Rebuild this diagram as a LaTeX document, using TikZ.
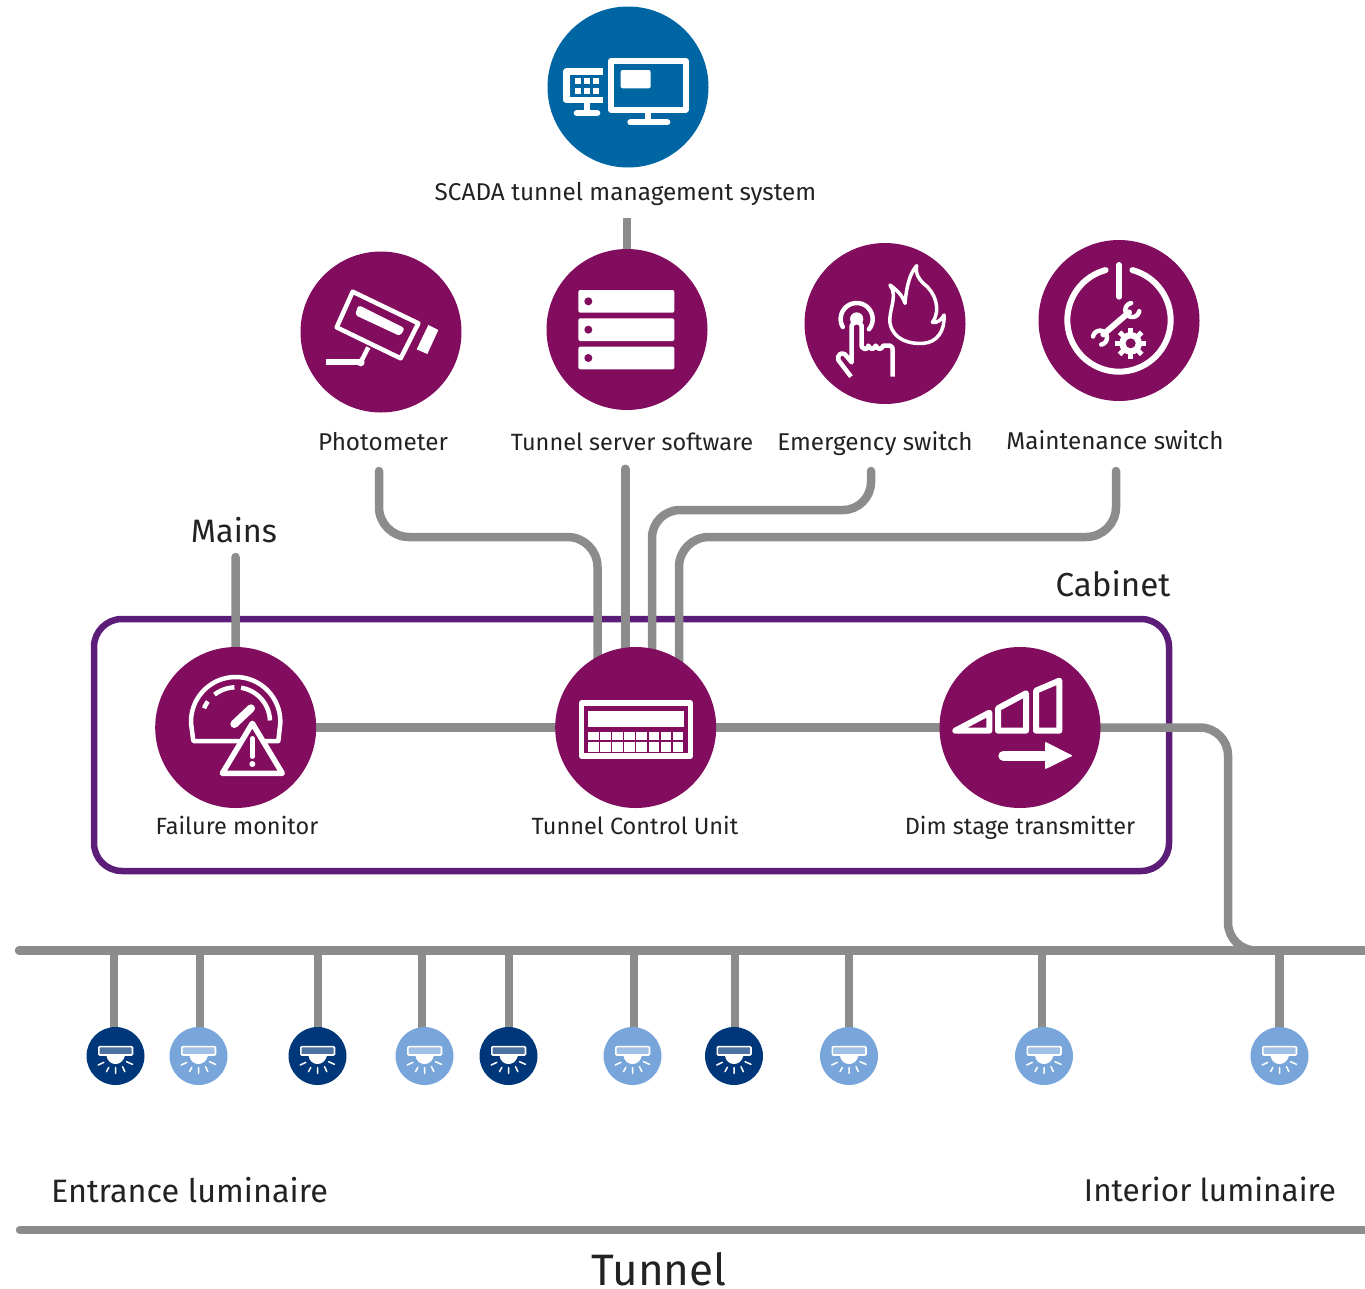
\documentclass[tikz,border=0pt]{standalone}
\usepackage{fontspec}
\setmainfont{Fira Sans}
\usetikzlibrary{backgrounds}
\definecolor{plum}{HTML}{820C5E}
\definecolor{scadablue}{HTML}{0065A3}
\definecolor{navy}{HTML}{00367A}
\definecolor{skyl}{HTML}{78A6DA}
\definecolor{wire}{HTML}{8C8C8C}
\definecolor{cabinetc}{HTML}{5C1D78}
\definecolor{ink}{HTML}{222222}
\tikzset{
  big/.style={circle,minimum size=161pt,inner sep=0pt,fill=plum},
  lamp/.style={circle,minimum size=58pt,inner sep=0pt},
  lbl/.style={text=ink,inner sep=0pt,anchor=base,font=\fontsize{24.3}{28}\selectfont},
  lblsm/.style={text=ink,inner sep=0pt,anchor=base,font=\fontsize{23.5}{28}\selectfont},
  lblbig/.style={text=ink,inner sep=0pt,anchor=base,font=\fontsize{32.4}{38}\selectfont},
  wireline/.style={draw=wire,line width=8.5pt,line cap=round},
  ico/.style={draw=white,line width=6pt,line join=round,line cap=round},
  icothin/.style={draw=white,line width=4.5pt,line join=round,line cap=round},
}
\newcommand{\lumicon}[1]{%
  \begin{scope}[shift={(#1)},scale=1/3]
    \draw[draw=white,line width=1.6pt,fill=white,fill opacity=.3,rounded corners=1pt] (-50,-28) rectangle (51,-3);
    \fill[white] (-27,0) -- (28,0) .. controls (24,16) and (12,24) .. (0,24) .. controls (-12,24) and (-24,16) .. (-27,0) -- cycle;
    \draw[draw=white,line width=1.5pt,line cap=round] (-52,27) -- (-35,19) (-27,47) -- (-20,34) (0,52) -- (0,35) (28,47) -- (21,32) (51,25) -- (33,17);
  \end{scope}}
\begin{document}
\begin{tikzpicture}[x=1pt,y=-1pt]
\useasboundingbox (0,0) rectangle (1365,1288);
% main nodes
\node[big,fill=scadablue] (scada) at (628,87) {};
\node[lbl] (scadat) at (625.5,200) {SCADA tunnel management system};
\node[big] (photo) at (381,332) {};
\node[big] (srv) at (627,329.5) {};
\node[big] (emer) at (885,323.5) {};
\node[big] (maint) at (1119,320.5) {};
\node[lbl] (photot) at (383,450.5) {Photometer};
\node[lblsm] (srvt) at (632,450.5) {Tunnel server software};
\node[lbl] (emert) at (875,450.5) {Emergency switch};
\node[lbl] (maintt) at (1115,449.3) {Maintenance switch};
\node[lblbig] (mains) at (234,542) {Mains};
\node[lblbig,font=\fontsize{33.2}{38}\selectfont] (cabt) at (1113,596) {Cabinet};
\node[big] (fail) at (235.7,727.5) {};
\node[big] (tcu) at (635.7,727.5) {};
\node[big] (dim) at (1020,727.5) {};
\node[lblsm] (failt) at (237,834) {Failure monitor};
\node[lblsm] (tcut) at (635,834) {Tunnel Control Unit};
\node[lblsm] (dimt) at (1020,834) {Dim stage transmitter};
\node[lamp,fill=navy] (l1) at (115.5,1056) {};
\node[lamp,fill=skyl] (l2) at (198.5,1056) {};
\node[lamp,fill=navy] (l3) at (317.5,1056) {};
\node[lamp,fill=skyl] (l4) at (424.5,1056) {};
\node[lamp,fill=navy] (l5) at (508.5,1056) {};
\node[lamp,fill=skyl] (l6) at (632.5,1056) {};
\node[lamp,fill=navy] (l7) at (734,1056) {};
\node[lamp,fill=skyl] (l8) at (849,1056) {};
\node[lamp,fill=skyl] (l9) at (1044,1056) {};
\node[lamp,fill=skyl] (l10) at (1279.5,1056) {};
\node[lblbig] (entr) at (189.5,1202) {Entrance luminaire};
\node[lblbig,font=\fontsize{31.5}{38}\selectfont] (inter) at (1210,1201) {Interior luminaire};
\node[text=ink,inner sep=0pt,anchor=base,font=\fontsize{44}{50}\selectfont] (tun) at (659,1285) {Tunnel};
\coordinate (busL) at (19,950.5);
\coordinate (busR) at (1370,950.5);
\coordinate (floorL) at (20,1230);
\coordinate (floorR) at (1370,1230);
\coordinate (srvtop) at (627,218);
\coordinate (p0) at (379,471);
\coordinate (s0) at (625,469);
\coordinate (e0) at (871,471);
\coordinate (m0) at (1116,471);
\coordinate (mainsend) at (235.5,557);
\begin{scope}[on background layer]
  \node[draw=cabinetc,line width=6.5pt,rounded corners=28pt,minimum width=1075pt,minimum height=252pt,inner sep=0pt] (cab) at (631.5,745) {};
  \draw[wireline,line cap=butt] (srvtop) -- (srv.center);
  \draw[wireline] (mainsend) -- (fail.center);
  \draw[wireline] (fail.center) -- (tcu.center);
  \draw[wireline] (tcu.center) -- (dim.center);
  \draw[wireline,line width=9pt] (s0) -- ([xshift=-10.7pt]tcu.center);
  \draw[wireline,rounded corners=30pt] (p0) |- (597.5,537) -- ([xshift=-38.2pt]tcu.center);
  \draw[wireline,rounded corners=28pt] (e0) |- (652,510) -- ([xshift=16.3pt]tcu.center);
  \draw[wireline,rounded corners=30pt] (m0) |- (679,537) -- ([xshift=43.3pt]tcu.center);
  \draw[wireline,rounded corners=28pt] (dim.center) -| (1228,950.5) -- (1270,950.5);
  \draw[wireline] (busL) -- (busR);
  \draw[wireline] (floorL) -- (floorR);
  \foreach \n/\dx in {l1/-1.5,l2/1.5,l3/0.5,l4/-2.5,l5/0.5,l6/1.5,l7/1,l8/0,l9/-2,l10/0}
    \draw[wireline,line cap=butt] ([xshift=\dx pt]\n.center) -- ([xshift=\dx pt]\n.center |- busL);
\end{scope}
% SCADA icon
\begin{scope}[shift={(540,0)},scale=1/3]
  \draw[draw=white,line width=6pt,line join=round] (213,183) rectangle (437,329);
  \fill[white,rounded corners=2pt] (242,210) rectangle (332,265);
  \draw[draw=white,line width=6pt] (325,335) -- (325,365);
  \draw[draw=white,line width=6pt,line cap=round] (271,367) -- (382,367);
  \draw[draw=white,line width=6.5pt,line join=round] (190,215) -- (79,215) -- (79,300) -- (190,300);
  \foreach \a in {105,132,158}\foreach \b in {235,265}\fill[white] (\a,\b) rectangle ++(18,18);
  \draw[draw=white,line width=6pt] (140,305) -- (140,335);
  \draw[draw=white,line width=6pt,line cap=round] (110,339) -- (172,339);
\end{scope}
% camera icon
\begin{scope}[shift={(290,240)},scale=1/3]
  \draw[icothin] (188,155) -- (385,250) -- (332,355) -- (140,262) -- cycle;
  \fill[white,rounded corners=3pt] (205,195) -- (345,265) -- (330,288) -- (195,225) -- cycle;
  \fill[white] (415,255) -- (445,270) -- (412,342) -- (380,328) -- cycle;
  \draw[draw=white,line width=6pt] (108,367) -- (212,367);
  \draw[draw=white,line width=4.5pt] (212,367) -- (235,322);
  \fill[white] (212,367) circle (12);
\end{scope}
% server icon
\begin{scope}[shift={(290,240)},scale=1/3]
  \foreach \t/\c in {150/184,235/269,320/354}{
    \fill[white,rounded corners=2pt] (865,\t) rectangle (1153,\t+68);
    \fill[plum] (895,\c) circle (12);
  }
\end{scope}
% emergency icon
\begin{scope}[shift={(795,235)},scale=1/3]
  \draw[icothin] plot[smooth,domain=150:400,samples=30] ({185+48*cos(\x)},{252+48*sin(\x)});
  \fill[white] (185,252) circle (20);
  \draw[draw=white,line width=4.5pt,line join=round,fill=plum] (168,425) -- (130,375) .. controls (125,360) and (140,350) .. (150,358) -- (170,382) -- (170,272) .. controls (172,258) and (198,258) .. (200,272) -- (200,335) .. controls (210,345) and (215,345) .. (220,332) .. controls (228,345) and (235,345) .. (242,332) .. controls (250,345) and (258,345) .. (265,332) -- (285,332) .. controls (292,332) and (293,340) .. (293,345) -- (293,425);
  \draw[draw=white,line width=3.5pt,line join=round] (365,92) .. controls (345,115) and (335,150) .. (330,205) .. controls (322,180) and (305,165) .. (285,150) .. controls (310,185) and (280,225) .. (285,265) .. controls (295,315) and (345,328) .. (385,325) .. controls (425,322) and (450,290) .. (447,240) .. controls (440,255) and (425,265) .. (412,262) .. controls (440,225) and (420,170) .. (385,145) .. controls (370,130) and (360,115) .. (365,92) -- cycle;
\end{scope}
% maintenance icon
\begin{scope}[shift={(795,235)},scale=1/3]
  \draw[ico] plot[smooth,domain=-75:255,samples=60] ({972+155*cos(\x)},{255+155*sin(\x)});
  \draw[ico] (972,90) -- (972,185);
  \draw[draw=white,line width=6pt,line cap=round] (925,298) -- (1002,232);
  \draw[icothin] plot[smooth,domain=10:260,samples=20] ({1012+21*cos(\x)},{225+21*sin(\x)});
  \draw[icothin] plot[smooth,domain=190:440,samples=20] ({915+21*cos(\x)},{308+21*sin(\x)});
  \fill[white] (1007,325) circle (34);
  \foreach \a in {0,45,...,315}
    \draw[draw=white,line width=5pt] (1007,325) -- ++(\a:47);
  \fill[plum] (1007,325) circle (15);
\end{scope}
% failure icon
\begin{scope}[shift={(145,640)},scale=1/3]
  \draw[icothin] (145,303) -- plot[smooth,domain=178:362,samples=50] ({272+134*cos(\x)},{245+134*sin(\x)}) -- (400,303) -- cycle;
  \draw[icothin,line cap=butt] plot[smooth,domain=203:216,samples=6] ({272+103*cos(\x)},{245+103*sin(\x)});
  \draw[icothin,line cap=butt] plot[smooth,domain=232:268,samples=10] ({272+103*cos(\x)},{245+103*sin(\x)});
  \draw[icothin,line cap=butt] plot[smooth,domain=279:358,samples=20] ({272+103*cos(\x)},{245+103*sin(\x)});
  \draw[draw=white,line width=8pt,line cap=round] (268,252) -- (318,205);
  \draw[draw=white,line width=5.5pt,line join=round,fill=plum] (322,250) -- (412,400) -- (232,400) -- cycle;
  \draw[draw=white,line width=4.5pt,line cap=round] (322,295) -- (322,350);
  \fill[white] (322,372) circle (9);
\end{scope}
% TCU icon
\begin{scope}[shift={(550,640)},scale=1/3]
  \draw[draw=white,line width=5.5pt,line join=round] (95,189) rectangle (421,348);
  \fill[white] (115,212) rectangle (402,260);
  \foreach \i in {0,...,7}{
    \fill[white] ({115+\i*36.1},275) rectangle ++(31,25);
    \fill[white] ({115+\i*36.1},305) rectangle ++(31,31);
  }
\end{scope}
% dim icon
\begin{scope}[shift={(930,640)},scale=1/3]
  \draw[draw=white,line width=6pt,line join=round] (76,272) -- (178,218) -- (178,272) -- cycle;
  \draw[draw=white,line width=6pt,line join=round] (204,205) -- (288,160) -- (288,272) -- (204,272) -- cycle;
  \draw[draw=white,line width=6pt,line join=round] (318,152) -- (388,122) -- (388,272) -- (318,272) -- cycle;
  \draw[draw=white,line width=10pt,line cap=round] (220,347) -- (345,347);
  \fill[white,rounded corners=1pt] (345,305) -- (428,347) -- (345,388) -- cycle;
\end{scope}
\lumicon{l1}\lumicon{l2}\lumicon{l3}\lumicon{l4}\lumicon{l5}
\lumicon{l6}\lumicon{l7}\lumicon{l8}\lumicon{l9}\lumicon{l10}
\end{tikzpicture}
\end{document}
